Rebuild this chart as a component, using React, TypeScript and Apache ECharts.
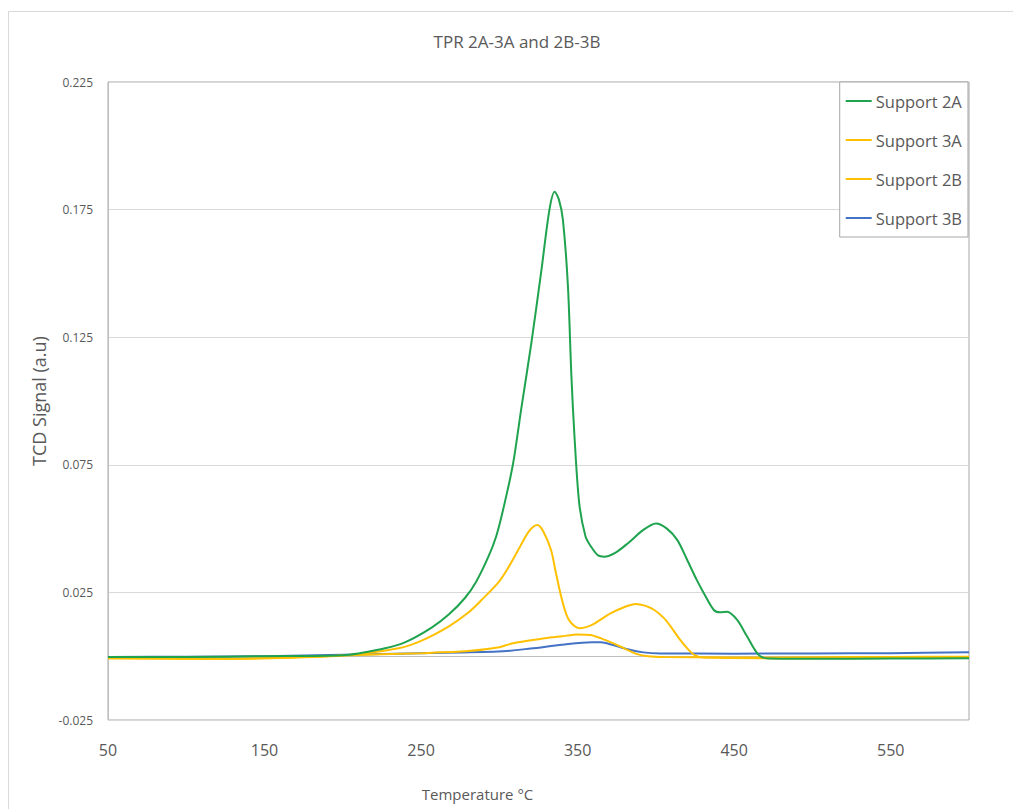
import React, { useEffect, useRef } from "react";
import * as echarts from "echarts";

const title = "TPR 2A-3A and 2B-3B";
const seriesNames = ["Support 2A", "Support 3A", "Support 2B", "Support 3B"];
const seriesColors = ["#1FA34E", "#FFC000", "#FFC000", "#4472C4"];

const xTicks = [50, 150, 250, 350, 450, 550];
const yTicks = [-0.025, 0.025, 0.075, 0.125, 0.175, 0.225];

const temp2A = [50, 100, 150, 200, 227, 240, 257, 268, 278, 285, 293, 298, 303, 308.8, 314, 320.4, 326.8, 332, 335.3, 338, 340.6, 343.8, 346, 348, 351, 355, 358.6, 363, 367, 374, 382, 392, 400, 407, 413.7, 420, 426, 430.7, 437, 441, 445.5, 451.9, 458, 465.6, 472, 500, 550, 600];
const signal2A = [-0.0003, -0.0003, 0, 0.0004, 0.0031, 0.0055, 0.0113, 0.0165, 0.0228, 0.029, 0.039, 0.047, 0.059, 0.0756, 0.097, 0.1226, 0.151, 0.175, 0.182, 0.179, 0.171, 0.145, 0.11, 0.086, 0.06, 0.047, 0.0429, 0.0395, 0.039, 0.0405, 0.0442, 0.0495, 0.052, 0.05, 0.0455, 0.0377, 0.03, 0.0246, 0.0181, 0.0172, 0.0174, 0.0142, 0.008, 0.0005, -0.0009, -0.001, -0.0009, -0.0008];

const temp3A = [50, 100, 150, 200, 235.7, 250, 267.5, 280, 288.6, 299, 305, 312, 319, 324.2, 328, 333, 336, 339.5, 343, 346, 351, 356, 361, 371, 380, 387, 393, 399, 405, 409.5, 415, 421, 425, 430, 500, 550, 600];
const signal3A = [-0.0008, -0.001, -0.0008, 0.0003, 0.0031, 0.006, 0.0116, 0.017, 0.022, 0.0286, 0.034, 0.0416, 0.049, 0.0514, 0.049, 0.0416, 0.033, 0.0233, 0.016, 0.0129, 0.011, 0.0115, 0.0129, 0.0168, 0.0193, 0.0205, 0.0198, 0.0181, 0.015, 0.0116, 0.0068, 0.0024, 0.0003, -0.0005, -0.0008, -0.0007, -0.0005];

const temp2B = [50, 100, 150, 200, 250, 280, 300, 308, 329, 340, 350, 358, 365, 371, 380, 388, 395, 405, 450, 500, 550, 600];
const signal2B = [-0.0008, -0.001, -0.0008, 0.0003, 0.0012, 0.002, 0.0035, 0.005, 0.007, 0.0078, 0.0085, 0.0083, 0.007, 0.0055, 0.003, 0.0008, 0, -0.0003, -0.0005, -0.0004, -0.0003, -0.0002];

const temp3B = [50, 100, 150, 200, 250, 299, 320, 340, 359, 365, 372, 382, 392, 403, 450, 500, 550, 600];
const signal3B = [-0.0003, -0.0002, 0, 0.0006, 0.0012, 0.0018, 0.003, 0.0045, 0.0055, 0.0055, 0.0045, 0.0027, 0.0015, 0.0011, 0.001, 0.0011, 0.0012, 0.0015];

const temps = [temp2A, temp3A, temp2B, temp3B];
const signals = [signal2A, signal3A, signal2B, signal3B];

const FONT = "'Open Sans', sans-serif";
const TEXT = "#595959";

export default function App() {
  const ref = useRef<HTMLDivElement>(null);
  useEffect(() => {
    if (!ref.current) return;
    const chart = echarts.init(ref.current, undefined, { renderer: "svg" });
    chart.setOption({
      animation: false,
      backgroundColor: "#ffffff",
      textStyle: { fontFamily: FONT },
      graphic: [
        {
          type: "rect",
          shape: { x: 8.5, y: 11.5, width: 1100, height: 900 },
          style: { fill: "none", stroke: "#d9d9d9", lineWidth: 1 },
          silent: true,
        },
        {
          type: "text",
          x: 517,
          y: 41,
          style: {
            text: title,
            font: "17px 'Open Sans', sans-serif",
            fill: TEXT,
            textAlign: "center",
            textVerticalAlign: "middle",
          },
          silent: true,
        },
      ],
      legend: {
        orient: "vertical",
        right: 45,
        top: 82,
        data: seriesNames,
        icon: "rect",
        itemWidth: 26,
        itemHeight: 2,
        itemGap: 19,
        padding: [9, 6, 9, 6],
        backgroundColor: "#ffffff",
        borderColor: "#a6a6a6",
        borderWidth: 1,
        borderRadius: 0,
        textStyle: { fontFamily: FONT, fontSize: 16.5, color: TEXT, lineHeight: 20, padding: [0, 0, 0, -1] },
      },
      grid: {
        left: 108,
        right: 44,
        top: 82,
        bottom: 89,
        show: true,
        borderColor: "#a6a6a6",
        borderWidth: 1,
      },
      xAxis: {
        type: "value",
        min: 50,
        max: 600,
        interval: 100,
        name: "Temperature °C",
        nameLocation: "middle",
        nameGap: 66,
        nameTextStyle: { fontFamily: FONT, fontSize: 15, color: TEXT, padding: [0, 122, 0, 0] },
        axisLine: { show: true, lineStyle: { color: "#bfbfbf" } },
        axisTick: { show: false },
        splitLine: { show: false },
        axisLabel: {
          fontFamily: FONT,
          fontSize: 16,
          color: TEXT,
          margin: 22,
          showMaxLabel: false,
          formatter: (v: number) => (xTicks.includes(v) ? String(v) : ""),
        },
      },
      yAxis: {
        type: "value",
        min: -0.025,
        max: 0.225,
        interval: 0.05,
        name: "TCD Signal (a.u)",
        nameLocation: "middle",
        nameGap: 50,
        nameTextStyle: { fontFamily: FONT, fontSize: 18, color: TEXT },
        axisLine: { show: true, lineStyle: { color: "#bfbfbf" } },
        axisTick: { show: false },
        splitLine: { show: true, lineStyle: { color: "#d9d9d9", width: 1 } },
        axisLabel: {
          fontFamily: FONT,
          fontSize: 12,
          color: TEXT,
          margin: 15,
          formatter: (v: number) => {
            const m = yTicks.find((t) => Math.abs(t - v) < 1e-9);
            return m === undefined ? "" : m.toFixed(3);
          },
        },
      },
      series: seriesNames.map((name, i) => ({
        name,
        type: "line",
        data: temps[i].map((t, j) => [t, signals[i][j]]),
        smooth: 0.3,
        showSymbol: false,
        symbol: "none",
        lineStyle: { color: seriesColors[i], width: 2 },
        itemStyle: { color: seriesColors[i] },
        z: 4 - i,
      })),
    });
    return () => chart.dispose();
  }, []);
  return (
    <div
      ref={ref}
      style={{ position: "absolute", left: 0, top: 0, width: 1013, height: 809 }}
    />
  );
}
